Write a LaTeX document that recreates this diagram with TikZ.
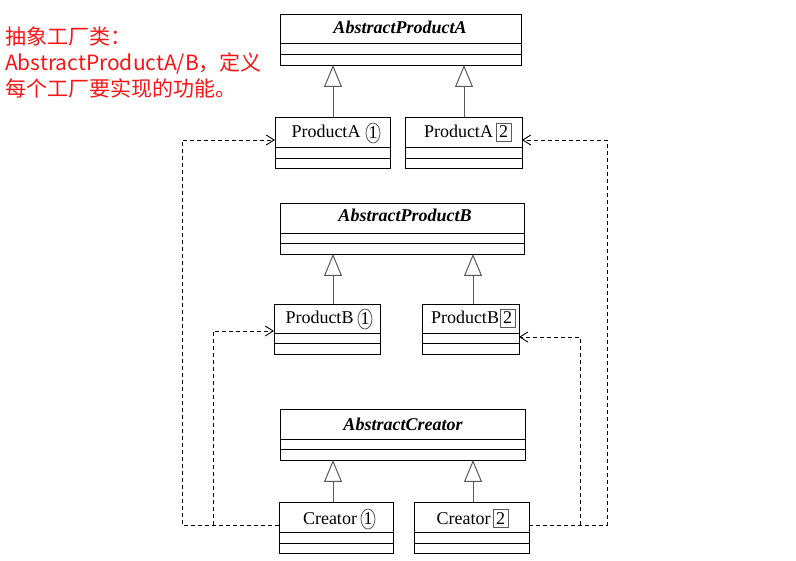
\documentclass[tikz,border=0pt]{standalone}
\usepackage{fontspec}
\setmainfont{Liberation Serif}
\newfontfamily\cjk{Noto Sans CJK SC}
\usetikzlibrary{arrows.meta,shapes.geometric,calc}
\definecolor{notered}{RGB}{250,20,20}
\definecolor{inhgray}{RGB}{90,90,90}
\tikzset{
  clsbox/.style={draw=black,line width=0.9pt,rectangle,anchor=north west,inner sep=0pt,outer sep=0pt},
  absname/.style={font=\fontsize{18}{20}\selectfont\bfseries\itshape,inner sep=0pt,anchor=base},
  conname/.style={font=\fontsize{18}{20}\selectfont,inner sep=0pt,anchor=base},
  circmark/.style={ellipse,draw=inhgray,line width=0.8pt,inner sep=0pt,minimum width=14pt,minimum height=20pt,font=\fontsize{18}{20}\selectfont},
  boxmark/.style={rectangle,draw=inhgray,line width=0.8pt,inner sep=0pt,minimum width=15pt,minimum height=18pt,font=\fontsize{18}{20}\selectfont},
  sepline/.style={draw=black,line width=0.9pt},
  inherit/.style={draw=inhgray,line width=1pt,-{Triangle[open,length=22pt,width=18pt,line width=1pt,fill=white]}},
  depend/.style={draw=black,line width=0.9pt,dash pattern=on 4pt off 3pt,-{Straight Barb[length=8pt,width=10pt,line width=0.9pt]}},
  note/.style={font=\cjk\fontsize{21}{26}\selectfont,text=notered,align=left,anchor=north west,inner sep=0pt}
}
\begin{document}
\begin{tikzpicture}[x=1pt,y=-1pt]
\useasboundingbox (0,0) rectangle (796,561);
\fill[white] (0,0) rectangle (796,561);

% note
\node[note] (note) at (5,27) {抽象工厂类：\\AbstractProductA/B，定义\\每个工厂要实现的功能。};

% Abstract Product A
\node[clsbox,minimum width=241pt,minimum height=51pt] (absA) at (280,14) {};
\draw[sepline] (280,43) -- (521,43);
\draw[sepline] (280,54) -- (521,54);
\node[absname] (absAt) at (400,34) {AbstractProductA};

\node[clsbox,minimum width=115pt,minimum height=51pt] (pA1) at (275,117) {};
\draw[sepline] (275,147) -- (390,147);
\draw[sepline] (275,158) -- (390,158);
\node[conname] (pA1t) at (326,138) {ProductA};
\node[circmark] (pA1m) at (373,133) {1};

\node[clsbox,minimum width=117pt,minimum height=51pt] (pA2) at (405,117) {};
\draw[sepline] (405,147) -- (522,147);
\draw[sepline] (405,158) -- (522,158);
\node[conname] (pA2t) at (458.5,138) {ProductA};
\node[boxmark] (pA2m) at (503.5,132) {2};

% Abstract Product B
\node[clsbox,minimum width=244pt,minimum height=51pt] (absB) at (280,203) {};
\draw[sepline] (280,233) -- (524,233);
\draw[sepline] (280,243) -- (524,243);
\node[absname] (absBt) at (405,222) {AbstractProductB};

\node[clsbox,minimum width=106pt,minimum height=50pt] (pB1) at (274,304) {};
\draw[sepline] (274,333) -- (380,333);
\draw[sepline] (274,343) -- (380,343);
\node[conname] (pB1t) at (319.5,324) {ProductB};
\node[circmark] (pB1m) at (365,319) {1};

\node[clsbox,minimum width=97pt,minimum height=50pt] (pB2) at (422,304) {};
\draw[sepline] (422,333) -- (519,333);
\draw[sepline] (422,343) -- (519,343);
\node[conname] (pB2t) at (465,324) {ProductB};
\node[boxmark] (pB2m) at (507.5,318) {2};

% Abstract Creator
\node[clsbox,minimum width=245pt,minimum height=51pt] (absC) at (280,409) {};
\draw[sepline] (280,439) -- (525,439);
\draw[sepline] (280,449) -- (525,449);
\node[absname] (absCt) at (403,430.5) {AbstractCreator};

\node[clsbox,minimum width=114pt,minimum height=51pt] (c1) at (279,502) {};
\draw[sepline] (279,532) -- (393,532);
\draw[sepline] (279,543) -- (393,543);
\node[conname] (c1t) at (330,524) {Creator};
\node[circmark] (c1m) at (368,519) {1};

\node[clsbox,minimum width=115pt,minimum height=51pt] (c2) at (414,502) {};
\draw[sepline] (414,532) -- (529,532);
\draw[sepline] (414,543) -- (529,543);
\node[conname] (c2t) at (463.5,524) {Creator};
\node[boxmark] (c2m) at (500.5,518.5) {2};

% inheritance
\draw[inherit] (pA1.north -| 333,0) -- (absA.south -| 333,0);
\draw[inherit] (pA2.north -| 464,0) -- (absA.south -| 464,0);
\draw[inherit] (pB1.north -| 333,0) -- (absB.south -| 333,0);
\draw[inherit] (pB2.north -| 473,0) -- (absB.south -| 473,0);
\draw[inherit] (c1.north -| 333,0) -- (absC.south -| 333,0);
\draw[inherit] (c2.north -| 473,0) -- (absC.south -| 473,0);

% dependencies
\coordinate (jL) at (213,525);
\coordinate (jR) at (580,525);
\draw[depend] (c1.west |- 0,525) -- (182,525) -- (182,140) -- (pA1.west |- 0,140);
\draw[depend] (jL) -- (213,331) -- (pB1.west |- 0,331);
\draw[depend] (c2.east |- 0,525) -- (607,525) -- (607,140) -- (pA2.east |- 0,140);
\draw[depend] (jR) -- (580,337) -- (pB2.east |- 0,337);
\end{tikzpicture}
\end{document}
